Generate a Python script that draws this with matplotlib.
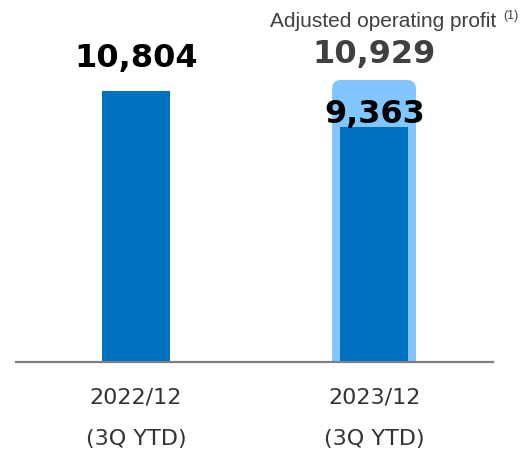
import matplotlib
matplotlib.use("Agg")
import matplotlib.pyplot as plt

categories = ["2022/12", "2023/12"]
periods = ["(3Q YTD)", "(3Q YTD)"]
operating_profit = [10804, 9363]
adjusted_value = 10929
adjusted_label = "Adjusted operating profit"
footnote = "(1)"

dark = "#0070C0"
light = "#82C6FF"
grey = "#404040"

fig = plt.figure(figsize=(5.24, 4.52), dpi=100)
ax = fig.add_axes([16 / 524, 89 / 452, 477 / 524, 363 / 452])
ax.set_xlim(-0.503, 1.497)
ax.set_ylim(0, 14474)
ax.axis("off")

x = list(range(len(categories)))
w = 0.285

# adjusted (light) bar with rounded padding
ax.bar([x[1]], [adjusted_value], width=w, color=light, edgecolor=light,
       linewidth=11.5, joinstyle="round", zorder=1)
ax.bar(x, operating_profit, width=w, color=dark, zorder=2)

ax.axhline(0, color="#808080", linewidth=1.6, zorder=3, clip_on=False)

num_kw = dict(ha="center", va="baseline", fontsize=23, fontweight="bold",
              family="DejaVu Sans", textcoords="offset points")
ax.annotate(f"{operating_profit[0]:,}", (x[0], operating_profit[0]),
            xytext=(0, 18), color="black", zorder=5, **num_kw)
ax.annotate(f"{operating_profit[1]:,}", (x[1], operating_profit[1]),
            xytext=(0, 3.6), color="black", zorder=5, **num_kw)
ax.annotate(f"{adjusted_value:,}", (x[1], adjusted_value),
            xytext=(0, 18.7), color=grey, zorder=5, **num_kw)

ax.annotate(adjusted_label, (x[1], adjusted_value), xytext=(6.5, 44.6),
            textcoords="offset points", ha="center", va="baseline",
            fontsize=15, family="Liberation Sans", color=grey)
ax.annotate(footnote, (x[1], adjusted_value), xytext=(98, 50),
            textcoords="offset points", ha="center", va="baseline",
            fontsize=9, family="Liberation Sans", color=grey)

trans = ax.get_xaxis_transform()
for xi, cat, per in zip(x, categories, periods):
    ax.text(xi, -41 / 363, cat, transform=trans, ha="center", va="baseline",
            fontsize=16, family="DejaVu Sans", color="#333333")
    ax.text(xi, -82 / 363, per, transform=trans, ha="center", va="baseline",
            fontsize=16, family="DejaVu Sans", color="#333333")

fig.savefig("out.png", dpi=100)
